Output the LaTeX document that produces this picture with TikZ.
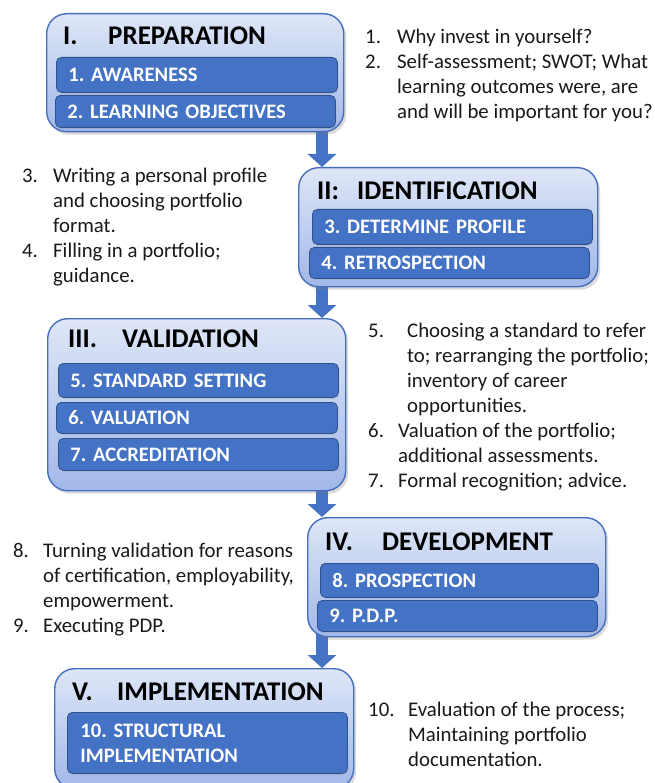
\documentclass[tikz,border=0pt]{standalone}
\usepackage{fontspec}
\setmainfont{Carlito}
\usetikzlibrary{shadows,arrows.meta}
\definecolor{barblue}{RGB}{68,114,196}
\definecolor{bardark}{RGB}{47,82,143}
\definecolor{boxtop}{RGB}{222,230,247}
\definecolor{boxbot}{RGB}{162,184,233}
\definecolor{boxline}{RGB}{70,110,190}
\definecolor{txt}{RGB}{25,25,25}
\newcommand\numlab[2]{\makebox[#1][l]{#2}}
\frenchspacing
\begin{document}
\begin{tikzpicture}[x=1pt,y=-1pt,
  stagebox/.style={draw=boxline, line width=1.4pt, rounded corners=20pt,
    top color=boxtop, bottom color=boxbot, inner sep=0pt, anchor=north west,
    drop shadow={opacity=0.28, shadow xshift=2.5pt, shadow yshift=-3pt}},
  barbox/.style={draw=bardark, line width=0.8pt, fill=barblue, rounded corners=5pt,
    anchor=north west, text=white, align=left, inner ysep=0pt, inner xsep=12pt,
    font=\bfseries\fontsize{20.6pt}{25pt}\selectfont\frenchspacing,
    drop shadow={opacity=0.18, shadow xshift=1pt, shadow yshift=-1.5pt}},
  ttl/.style={anchor=base west, inner sep=0pt, text=black,
    font=\bfseries\fontsize{27pt}{31pt}\selectfont},
  desc/.style={anchor=base west, inner sep=0pt, text=txt,
    font=\fontsize{20.8pt}{25pt}\selectfont\frenchspacing},
  arr/.style={draw=barblue, line width=12pt,
    -{Triangle[width=28pt,length=13pt]}}
]
\useasboundingbox (0,0) rectangle (654,783);
\fill[white] (0,0) rectangle (654,783);

% arrow axis
\coordinate (ax) at (322,0);

% stage box frames (placement)
\path (46,13) node[anchor=north west, minimum width=297pt, minimum height=118pt, inner sep=0pt] (b1) {};
\path (298,167) node[anchor=north west, minimum width=299pt, minimum height=119pt, inner sep=0pt] (b2) {};
\path (47,318) node[anchor=north west, minimum width=298pt, minimum height=172pt, inner sep=0pt] (b3) {};
\path (307,517) node[anchor=north west, minimum width=298pt, minimum height=119pt, inner sep=0pt] (b4) {};
\path (54,668) node[anchor=north west, minimum width=299pt, minimum height=120pt, inner sep=0pt] (b5) {};

% arrows
\draw[arr] ([yshift=8pt]b1.south -| ax) -- (b2.north -| ax);
\draw[arr] ([yshift=8pt]b2.south -| ax) -- (b3.north -| ax);
\draw[arr] ([yshift=8pt]b3.south -| ax) -- (b4.north -| ax);
\draw[arr] ([yshift=8pt]b4.south -| ax) -- (b5.north -| ax);

% boxes drawn
\node[stagebox, minimum width=297pt, minimum height=118pt] (s1) at (b1.north west) {};
\node[stagebox, minimum width=299pt, minimum height=119pt] (s2) at (b2.north west) {};
\node[stagebox, minimum width=298pt, minimum height=172pt] (s3) at (b3.north west) {};
\node[stagebox, minimum width=298pt, minimum height=119pt] (s4) at (b4.north west) {};
\node[stagebox, minimum width=299pt, minimum height=120pt] (s5) at (b5.north west) {};

% titles
\node[ttl] (n1a) at (63,45) {I.};
\node[ttl] (n1b) at (108,45) {PREPARATION};
\node[ttl] (n2a) at (317,200) {II:};
\node[ttl] (n2b) at (357,200) {IDENTIFICATION};
\node[ttl] (n3a) at (68,347) {III.};
\node[ttl] (n3b) at (122,347) {VALIDATION};
\node[ttl] (n4a) at (325,550) {IV.};
\node[ttl] (n4b) at (382,550) {DEVELOPMENT};
\node[ttl] (n5a) at (72,700) {V.};
\node[ttl] (n5b) at (117,700) {IMPLEMENTATION};

% bars
\node[barbox, text width=257pt, minimum height=35pt] (bar1) at (56,57) {1. AWARENESS};
\node[barbox, text width=256pt, minimum height=32pt] (bar2) at (55,95) {2. LEARNING OBJECTIVES};
\node[barbox, text width=256pt, minimum height=35pt] (bar3) at (312,209) {3. DETERMINE PROFILE};
\node[barbox, text width=256pt, minimum height=31pt] (bar4) at (309,247) {4. RETROSPECTION};
\node[barbox, text width=256pt, minimum height=34pt] (bar5) at (58,363) {5. STANDARD SETTING};
\node[barbox, text width=257pt, minimum height=31pt] (bar6) at (56,402) {6. VALUATION};
\node[barbox, text width=256pt, minimum height=32pt] (bar7) at (58,438) {7. ACCREDITATION};
\node[barbox, text width=254pt, minimum height=34pt] (bar8) at (320,563) {8. PROSPECTION};
\node[barbox, text width=256pt, minimum height=31pt] (bar9) at (317,600) {9. P.D.P.};
\node[barbox, text width=254pt, inner xsep=13pt, minimum height=61pt] (bar10) at (67,712) {10. STRUCTURAL\\IMPLEMENTATION};

% descriptions
\node[desc] (t1) at (365,44) {\begin{tabular}[t]{@{}l@{}}
\numlab{32pt}{1.}Why invest in yourself?\\
\numlab{32pt}{2.}Self-assessment; SWOT; What\\
\hspace*{32pt}learning outcomes were, are\\
\hspace*{32pt}and will be important for you?
\end{tabular}};

\node[desc] (t2) at (22,183) {\begin{tabular}[t]{@{}l@{}}
\numlab{31pt}{3.}Writing a personal profile\\
\hspace*{31pt}and choosing portfolio\\
\hspace*{31pt}format.\\
\numlab{31pt}{4.}Filling in a portfolio;\\
\hspace*{31pt}guidance.
\end{tabular}};

\node[desc] (t3) at (368,337) {\begin{tabular}[t]{@{}l@{}}
\numlab{39pt}{5.}Choosing a standard to refer\\
\hspace*{39pt}to; rearranging the portfolio;\\
\hspace*{39pt}inventory of career\\
\hspace*{39pt}opportunities.\\
\numlab{30pt}{6.}Valuation of the portfolio;\\
\hspace*{30pt}additional assessments.\\
\numlab{30pt}{7.}Formal recognition; advice.
\end{tabular}};

\node[desc] (t4) at (13,557) {\begin{tabular}[t]{@{}l@{}}
\numlab{30pt}{8.}Turning validation for reasons\\
\hspace*{30pt}of certification, employability,\\
\hspace*{30pt}empowerment.\\
\numlab{30pt}{9.}Executing PDP.
\end{tabular}};

\node[desc] (t5) at (368,716) {\begin{tabular}[t]{@{}l@{}}
\numlab{40pt}{10.}Evaluation of the process;\\
\hspace*{40pt}Maintaining portfolio\\
\hspace*{40pt}documentation.
\end{tabular}};
\end{tikzpicture}
\end{document}
